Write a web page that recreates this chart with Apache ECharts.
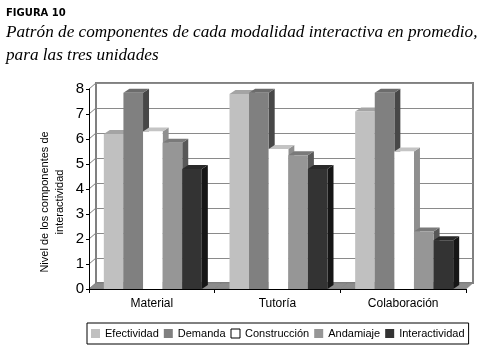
<!DOCTYPE html>
<html>
<head>
<meta charset="utf-8">
<script src="https://cdn.jsdelivr.net/npm/echarts@6/dist/echarts.min.js"></script>
<style>
  html, body { margin: 0; padding: 0; background: #fff; }
  #chart { width: 481px; height: 352px; }
</style>
</head>
<body>
<div id="chart"></div>
<script>
// data
const categories = ["Material", "Tutoría", "Colaboración"];
const efectividad = [6.2, 7.8, 7.1];
const demanda = [7.85, 7.85, 7.85];
const construccion = [6.3, 5.6, 5.5];
const andamiaje = [5.85, 5.35, 2.3];
const interactividad = [4.8, 4.8, 1.95];
const yTicks = [0, 1, 2, 3, 4, 5, 6, 7, 8];

// 3d look
const DX = 6, DY = -4;      // bar depth
const WX = 7, WY = -6;      // wall depth
const FONT = "Liberation Sans";

const seriesDefs = [
  { name: "Efectividad", values: efectividad, front: "#c0c0c0", top: "#a4a4a4", side: "#8a8a8a" },
  { name: "Demanda", values: demanda, front: "#808080", top: "#6c6c6c", side: "#474747" },
  { name: "Construcción", values: construccion, front: "#ffffff", top: "#c4c4c4", side: "#8f8f8f" },
  { name: "Andamiaje", values: andamiaje, front: "#969696", top: "#7a7a7a", side: "#585858" },
  { name: "Interactividad", values: interactividad, front: "#333333", top: "#2a2a2a", side: "#161616" }
];

const chart = echarts.init(document.getElementById("chart"));

function barRenderer(k, def) {
  return function (params, api) {
    const idx = api.value(0);
    const val = api.value(1);
    const base = api.coord([idx, 0]);
    const top = api.coord([idx, val]);
    const band = api.size([1, 0])[0];
    const bw = band * 0.78 / seriesDefs.length;
    const x0 = base[0] - bw * seriesDefs.length / 2 + k * bw + 1;
    const x1 = x0 + bw;
    const y0 = base[1], y1 = top[1];
    return {
      type: "group",
      children: [
        { type: "polygon", shape: { points: [[x1, y0], [x1 + DX, y0 + DY], [x1 + DX, y1 + DY], [x1, y1]] }, style: { fill: def.side } },
        { type: "polygon", shape: { points: [[x0, y1], [x1, y1], [x1 + DX, y1 + DY], [x0 + DX, y1 + DY]] }, style: { fill: def.top } },
        { type: "rect", shape: { x: x0, y: y1, width: bw, height: y0 - y1 }, style: { fill: def.front } }
      ]
    };
  };
}

const barSeries = seriesDefs.map((def, k) => ({
  name: def.name,
  type: "custom",
  xAxisIndex: 0,
  yAxisIndex: 0,
  renderItem: barRenderer(k, def),
  itemStyle: { color: def.front },
  encode: { x: 0, y: 1 },
  data: categories.map((c, i) => [i, def.values[i]]),
  silent: true,
  z: 3
}));

// floor under each category
const floorSeries = {
  type: "custom",
  xAxisIndex: 0,
  yAxisIndex: 0,
  silent: true,
  z: 2,
  renderItem: function (params, api) {
    const idx = api.value(0);
    const c = api.coord([idx, 0]);
    const band = api.size([1, 0])[0];
    const xl = c[0] - band / 2, xr = c[0] + band / 2, y = c[1];
    return {
      type: "polygon",
      shape: { points: [[xl, y], [xr, y], [xr + WX, y + WY], [xl + WX, y + WY]] },
      style: { fill: "#8c8c8c", stroke: "#7a7a7a", lineWidth: 0.5 }
    };
  },
  data: categories.map((c, i) => [i, 0])
};

// side wall lines from the axis to the back wall
const sideWall = {
  type: "custom",
  xAxisIndex: 0,
  yAxisIndex: 0,
  silent: true,
  z: 1,
  renderItem: function (params, api) {
    const v = api.value(1);
    const c = api.coord([0, v]);
    const band = api.size([1, 0])[0];
    const x = c[0] - band / 2;
    return {
      type: "line",
      shape: { x1: x, y1: c[1], x2: x + WX, y2: c[1] + WY },
      style: { stroke: "#808080", lineWidth: 1 }
    };
  },
  data: yTicks.map(v => [0, v])
};

chart.setOption({
  animation: false,
  backgroundColor: "#ffffff",
  title: [
    {
      text: "FIGURA 10",
      left: 6, top: 8, padding: 0,
      textStyle: { fontFamily: "DejaVu Sans", fontSize: 10, fontWeight: "bold", color: "#000" }
    },
    {
      text: "Patrón de componentes de cada modalidad interactiva en promedio,\npara las tres unidades",
      left: 6, top: 21, padding: 0,
      textStyle: { fontFamily: "Liberation Serif", fontStyle: "italic", fontWeight: "normal", fontSize: 17.2, lineHeight: 23, color: "#000" }
    }
  ],
  legend: {
    left: 87, top: 323,
    icon: "rect",
    itemWidth: 9, itemHeight: 9,
    itemGap: 5,
    padding: [5, 4],
    borderColor: "#000", borderWidth: 1,
    textStyle: { fontFamily: FONT, fontSize: 11, color: "#000" },
    data: seriesDefs.map(d => ({
      name: d.name,
      itemStyle: d.front === "#ffffff" ? { color: "#fff", borderColor: "#000", borderWidth: 1 } : { color: d.front, borderWidth: 0 }
    }))
  },
  graphic: [
    {
      type: "text",
      x: 52, y: 202,
      rotation: Math.PI / 2,
      style: {
        text: "Nivel de los componentes de\ninteractividad",
        fontFamily: FONT, fontSize: 11, lineHeight: 15,
        fill: "#000",
        align: "center", verticalAlign: "middle"
      }
    }
  ],
  grid: [
    { left: 89, right: 15, top: 89, bottom: 63 },
    { left: 96, right: 8, top: 83, bottom: 69, show: true, borderColor: "#808080", borderWidth: 2, backgroundColor: "#fff", z: 0 }
  ],
  xAxis: [
    {
      type: "category", gridIndex: 0, data: categories, z: 10,
      axisLine: { lineStyle: { color: "#000", width: 1 } },
      axisTick: { show: true, length: 4, lineStyle: { color: "#000" } },
      axisLabel: { fontFamily: FONT, fontSize: 12, color: "#000", margin: 9 },
      splitLine: { show: false }
    },
    {
      type: "category", gridIndex: 1, data: categories, show: false
    }
  ],
  yAxis: [
    {
      type: "value", gridIndex: 0, min: 0, max: 8, interval: 1, z: 10,
      axisLine: { show: true, lineStyle: { color: "#000", width: 1 } },
      axisTick: { show: true, length: 3, lineStyle: { color: "#000" } },
      axisLabel: { fontFamily: FONT, fontSize: 15, color: "#000", margin: 5 },
      splitLine: { show: false }
    },
    {
      type: "value", gridIndex: 1, min: 0, max: 8, interval: 1,
      axisLine: { show: false }, axisTick: { show: false }, axisLabel: { show: false },
      splitLine: { show: true, lineStyle: { color: "#8a8a8a", width: 1 } }
    }
  ],
  series: [sideWall, floorSeries].concat(barSeries)
});
</script>
</body>
</html>
